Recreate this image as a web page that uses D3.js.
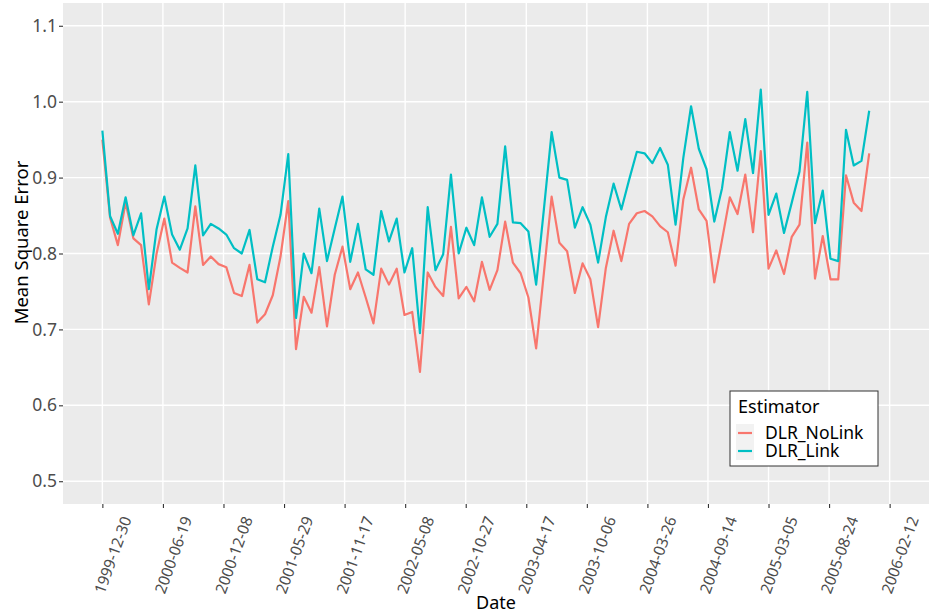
<!DOCTYPE html>
<html>
<head>
<meta charset="utf-8">
<script src="https://cdn.jsdelivr.net/npm/d3@7"></script>
<style>
  body { margin: 0; background: #fff; }
  text { font-family: "Noto Sans", sans-serif; }
</style>
</head>
<body>
<div id="chart"></div>
<script>
// series values, one per 22-day step starting 1999-12-30
var startDate = "1999-12-30";
var stepDays = 22;

var noLink = [0.950, 0.847, 0.811, 0.867, 0.820, 0.811, 0.733, 0.800, 0.846, 0.788,
  0.781, 0.775, 0.862, 0.785, 0.796, 0.786, 0.782, 0.748, 0.744, 0.785,
  0.709, 0.720, 0.745, 0.796, 0.869, 0.674, 0.743, 0.722, 0.782, 0.704,
  0.772, 0.809, 0.753, 0.775, 0.742, 0.708, 0.780, 0.759, 0.780, 0.719,
  0.723, 0.644, 0.775, 0.756, 0.744, 0.835, 0.741, 0.756, 0.737, 0.789,
  0.752, 0.778, 0.842, 0.788, 0.774, 0.742, 0.675, 0.774, 0.875, 0.814,
  0.803, 0.748, 0.787, 0.766, 0.703, 0.781, 0.830, 0.790, 0.839, 0.853,
  0.856, 0.849, 0.836, 0.828, 0.784, 0.871, 0.913, 0.858, 0.843, 0.762,
  0.818, 0.874, 0.852, 0.904, 0.828, 0.935, 0.780, 0.804, 0.773, 0.822,
  0.838, 0.946, 0.767, 0.823, 0.766, 0.766, 0.903, 0.867, 0.856, 0.932];

var link = [0.962, 0.849, 0.826, 0.874, 0.824, 0.853, 0.753, 0.832, 0.875, 0.825,
  0.805, 0.833, 0.916, 0.824, 0.839, 0.833, 0.825, 0.807, 0.800, 0.831,
  0.766, 0.762, 0.809, 0.851, 0.931, 0.715, 0.800, 0.774, 0.859, 0.790,
  0.833, 0.875, 0.789, 0.839, 0.779, 0.772, 0.856, 0.816, 0.846, 0.775,
  0.807, 0.695, 0.861, 0.778, 0.799, 0.904, 0.800, 0.834, 0.811, 0.874,
  0.822, 0.839, 0.941, 0.841, 0.840, 0.829, 0.759, 0.858, 0.960, 0.900,
  0.897, 0.834, 0.861, 0.838, 0.788, 0.848, 0.892, 0.858, 0.897, 0.934,
  0.932, 0.919, 0.939, 0.917, 0.838, 0.926, 0.994, 0.938, 0.911, 0.842,
  0.886, 0.960, 0.909, 0.977, 0.906, 1.016, 0.851, 0.879, 0.827, 0.867,
  0.908, 1.013, 0.840, 0.883, 0.793, 0.790, 0.963, 0.916, 0.922, 0.988];

var xTicks = ["1999-12-30", "2000-06-19", "2000-12-08", "2001-05-29", "2001-11-17",
  "2002-05-08", "2002-10-27", "2003-04-17", "2003-10-06", "2004-03-26",
  "2004-09-14", "2005-03-05", "2005-08-24", "2006-02-12"];
var yTicks = [0.5, 0.6, 0.7, 0.8, 0.9, 1.0, 1.1];

var seriesNames = ["DLR_NoLink", "DLR_Link"];
var seriesColors = ["#F8766D", "#00BFC4"];

var W = 929, H = 613;
var panel = {left: 63, right: 929, top: 3, bottom: 504};

var parse = d3.utcParse("%Y-%m-%d");
var t0 = parse(startDate);
var dates = noLink.map(function(d, i) { return d3.utcDay.offset(t0, i * stepDays); });
var tickDates = xTicks.map(parse);

// ggplot-style 5% expansion around the limits
var lo = tickDates[0], hi = tickDates[tickDates.length - 1];
var pad = (hi - lo) * 0.05;
var x = d3.scaleUtc()
  .domain([new Date(+lo - pad), new Date(+hi + pad)])
  .range([panel.left, panel.right]);
var y = d3.scaleLinear()
  .domain([0.47, 1.13])
  .range([panel.bottom, panel.top]);

var svg = d3.select("#chart").append("svg")
  .attr("width", W)
  .attr("height", H);

svg.append("rect")
  .attr("x", panel.left).attr("y", panel.top)
  .attr("width", panel.right - panel.left)
  .attr("height", panel.bottom - panel.top)
  .attr("fill", "#EBEBEB");

// grid
svg.append("g").selectAll("line")
  .data(yTicks).enter().append("line")
  .attr("x1", panel.left).attr("x2", panel.right)
  .attr("y1", function(d) { return y(d); })
  .attr("y2", function(d) { return y(d); })
  .attr("stroke", "#fff").attr("stroke-width", 1.4);

svg.append("g").selectAll("line")
  .data(tickDates).enter().append("line")
  .attr("x1", function(d) { return x(d); })
  .attr("x2", function(d) { return x(d); })
  .attr("y1", panel.top).attr("y2", panel.bottom)
  .attr("stroke", "#fff").attr("stroke-width", 1.4);

// lines
var line = d3.line()
  .x(function(d) { return x(d.date); })
  .y(function(d) { return y(d.value); });

[noLink, link].forEach(function(vals, k) {
  var pts = vals.map(function(v, i) { return {date: dates[i], value: v}; });
  svg.append("path")
    .datum(pts)
    .attr("fill", "none")
    .attr("stroke", seriesColors[k])
    .attr("stroke-width", 2.2)
    .attr("stroke-linejoin", "round")
    .attr("d", line);
});

// y axis
var yAxis = d3.axisLeft(y)
  .tickValues(yTicks)
  .tickFormat(d3.format(".1f"))
  .tickSize(4)
  .tickPadding(2);
var gy = svg.append("g")
  .attr("transform", "translate(" + panel.left + ",0)")
  .call(yAxis);
gy.select(".domain").remove();
gy.selectAll("line").attr("stroke", "#333").attr("stroke-width", 1.1);
gy.selectAll("text")
  .attr("fill", "#4D4D4D")
  .style("font-size", "17.5px");

// x axis
var xAxis = d3.axisBottom(x)
  .tickValues(tickDates)
  .tickFormat(d3.utcFormat("%Y-%m-%d"))
  .tickSize(4);
var gx = svg.append("g")
  .attr("transform", "translate(0," + panel.bottom + ")")
  .call(xAxis);
gx.select(".domain").remove();
gx.selectAll("line").attr("stroke", "#333").attr("stroke-width", 1.1);
gx.selectAll("text")
  .attr("fill", "#4D4D4D")
  .style("font-size", "15.5px")
  .attr("text-anchor", "middle")
  .attr("x", 0).attr("y", 0).attr("dy", "0.35em")
  .attr("transform", "translate(10,51) rotate(-70)");

// axis titles
svg.append("text")
  .attr("x", (panel.left + panel.right) / 2)
  .attr("y", 609)
  .attr("text-anchor", "middle")
  .style("font-size", "18px")
  .text("Date");

svg.append("text")
  .attr("transform", "translate(28," + ((panel.top + panel.bottom) / 2 - 11) + ") rotate(-90)")
  .attr("text-anchor", "middle")
  .style("font-size", "18.5px")
  .text("Mean Square Error");

// legend
var legend = svg.append("g").attr("transform", "translate(730,391)");
legend.append("rect")
  .attr("width", 148).attr("height", 75)
  .attr("fill", "#fff")
  .attr("stroke", "#333").attr("stroke-width", 1);
legend.append("text")
  .attr("x", 8).attr("y", 22)
  .style("font-size", "18px")
  .text("Estimator");
var item = legend.selectAll(".item")
  .data(seriesNames).enter().append("g")
  .attr("class", "item")
  .attr("transform", function(d, i) { return "translate(0," + (42 + i * 18) + ")"; });
item.append("rect")
  .attr("x", 6).attr("y", -9).attr("width", 18).attr("height", 18)
  .attr("fill", "#F2F2F2");
item.append("line")
  .attr("x1", 8).attr("x2", 22)
  .attr("stroke", function(d, i) { return seriesColors[i]; })
  .attr("stroke-width", 2.2);
item.append("text")
  .attr("x", 35).attr("dy", "0.35em")
  .style("font-size", "17.5px")
  .text(function(d) { return d; });
</script>
</body>
</html>
